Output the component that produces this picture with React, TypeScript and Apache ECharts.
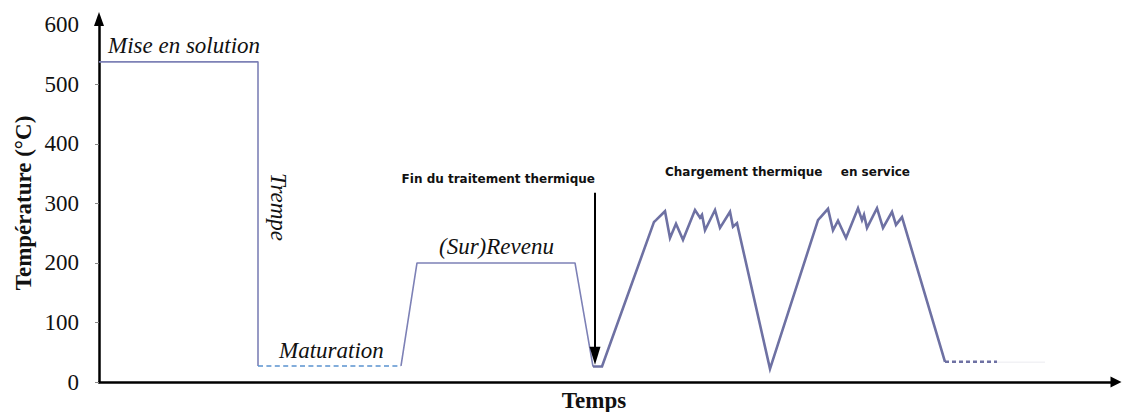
import React, { useEffect, useRef } from "react";
import * as echarts from "echarts";

// Time axis is an arbitrary unit; temperatures in °C
const solutionX = [0, 159, 159];
const solutionY = [538, 538, 27];
const maturationX = [159, 302];
const maturationY = [27, 27];
const revenuX = [302, 318, 476, 494];
const revenuY = [27, 200, 200, 26];
const serviceX = [
  494, 503, 555, 557, 566, 571, 577, 584, 596, 601, 603, 606, 616, 621, 631, 634, 638,
  671, 719, 721, 729, 734, 739, 747, 759, 763, 765, 768, 778, 784, 793, 797, 803, 846,
];
const serviceY = [
  26, 26, 269, 272, 287, 242, 266, 239, 289, 276, 281, 255, 289, 259, 286, 261, 267,
  22, 272, 276, 291, 255, 271, 242, 292, 272, 281, 259, 292, 259, 286, 264, 277, 34,
];
const finX = [846, 898];
const finY = [34, 34];
const ghostX = [898, 946];
const ghostY = [33, 33];
const yTicks = [0, 100, 200, 300, 400, 500, 600];
const arrowX = [496, 496];
const arrowY = [318, 44];

const zip = (xs: number[], ys: number[]) => xs.map((x, i) => [x, ys[i]]);

const THIN = "#7d81b6";
const THICK = "#6e71a3";

export default function App() {
  const ref = useRef<HTMLDivElement>(null);
  useEffect(() => {
    if (!ref.current) return;
    const chart = echarts.init(ref.current, undefined, { renderer: "svg" });
    const serif = "'Liberation Serif', 'Times New Roman', serif";
    const sans = "'DejaVu Sans', sans-serif";
    chart.setOption({
      animation: false,
      backgroundColor: "#ffffff",
      grid: { left: 99, top: 19, width: 1017, height: 363 },
      xAxis: {
        type: "value",
        min: 0,
        max: 1017,
        axisLine: {
          show: true,
          symbol: ["none", "triangle"],
          symbolSize: [11, 11],
          lineStyle: { color: "#000", width: 2.5 },
        },
        axisTick: { show: false },
        axisLabel: { show: false },
        splitLine: { show: false },
      },
      yAxis: {
        type: "value",
        min: 0,
        max: 610,
        axisLine: {
          show: true,
          onZero: false,
          symbol: ["none", "triangle"],
          symbolSize: [10, 14],
          lineStyle: { color: "#000", width: 2.5 },
        },
        axisTick: {
          show: true,
          length: 4,
          customValues: yTicks,
          lineStyle: { color: "#888", width: 1 },
        },
        axisLabel: {
          customValues: yTicks,
          fontFamily: serif,
          fontSize: 23,
          color: "#111",
          margin: 20,
        },
        splitLine: { show: false },
      },
      series: [
        {
          type: "line",
          data: zip(solutionX, solutionY),
          symbol: "none",
          lineStyle: { color: THIN, width: 1.6 },
        },
        {
          type: "line",
          data: zip(maturationX, maturationY),
          symbol: "none",
          lineStyle: { color: "#5a92cf", width: 1.6, type: [5, 3.4] },
        },
        {
          type: "line",
          data: zip(revenuX, revenuY),
          symbol: "none",
          lineStyle: { color: THIN, width: 1.6 },
        },
        {
          type: "line",
          data: zip(serviceX, serviceY),
          symbol: "none",
          lineStyle: { color: THICK, width: 2.6, join: "miter" },
          markLine: {
            silent: true,
            symbol: ["none", "triangle"],
            symbolSize: [11, 18],
            label: { show: false },
            lineStyle: { color: "#000", width: 2, type: "solid" },
            data: [
              [
                { coord: [arrowX[0], arrowY[0]] },
                { coord: [arrowX[1], arrowY[1]] },
              ],
            ],
          },
        },
        {
          type: "line",
          data: zip(finX, finY),
          symbol: "none",
          lineStyle: { color: THICK, width: 2.6, type: [4, 3] },
        },
        {
          type: "line",
          data: zip(ghostX, ghostY),
          symbol: "none",
          lineStyle: { color: "#f2f2f5", width: 1.5 },
        },
      ],
      graphic: [
        {
          type: "text",
          x: 108,
          y: 45,
          style: { text: "Mise en solution", fontFamily: serif, fontStyle: "italic", fontSize: 23, fill: "#111", align: "left", verticalAlign: "middle" },
        },
        {
          type: "text",
          x: 278,
          y: 207,
          rotation: -Math.PI / 2,
          style: { text: "Trempe", fontFamily: serif, fontStyle: "italic", fontSize: 23, fill: "#111", align: "center", verticalAlign: "middle" },
        },
        {
          type: "text",
          x: 279,
          y: 350,
          style: { text: "Maturation", fontFamily: serif, fontStyle: "italic", fontSize: 23, fill: "#111", align: "left", verticalAlign: "middle" },
        },
        {
          type: "text",
          x: 439,
          y: 246,
          style: { text: "(Sur)Revenu", fontFamily: serif, fontStyle: "italic", fontSize: 23, fill: "#111", align: "left", verticalAlign: "middle" },
        },
        {
          type: "text",
          x: 595,
          y: 179,
          style: { text: "Fin du traitement thermique", fontFamily: sans, fontWeight: "bold", fontSize: 12, fill: "#111", align: "right", verticalAlign: "middle" },
        },
        {
          type: "text",
          x: 665,
          y: 172,
          style: { text: "Chargement thermique", fontFamily: sans, fontWeight: "bold", fontSize: 12, fill: "#111", align: "left", verticalAlign: "middle" },
        },
        {
          type: "text",
          x: 910,
          y: 172,
          style: { text: "en service", fontFamily: sans, fontWeight: "bold", fontSize: 12, fill: "#111", align: "right", verticalAlign: "middle" },
        },
        {
          type: "text",
          x: 23,
          y: 203,
          rotation: Math.PI / 2,
          style: { text: "Température (°C)", fontFamily: serif, fontWeight: "bold", fontSize: 23, fill: "#111", align: "center", verticalAlign: "middle" },
        },
        {
          type: "text",
          x: 594,
          y: 400,
          style: { text: "Temps", fontFamily: serif, fontWeight: "bold", fontSize: 23, fill: "#111", align: "center", verticalAlign: "middle" },
        },
      ],
    });
    return () => chart.dispose();
  }, []);
  return (
    <div
      ref={ref}
      style={{ position: "absolute", left: 0, top: 0, width: 1124, height: 412 }}
    />
  );
}
